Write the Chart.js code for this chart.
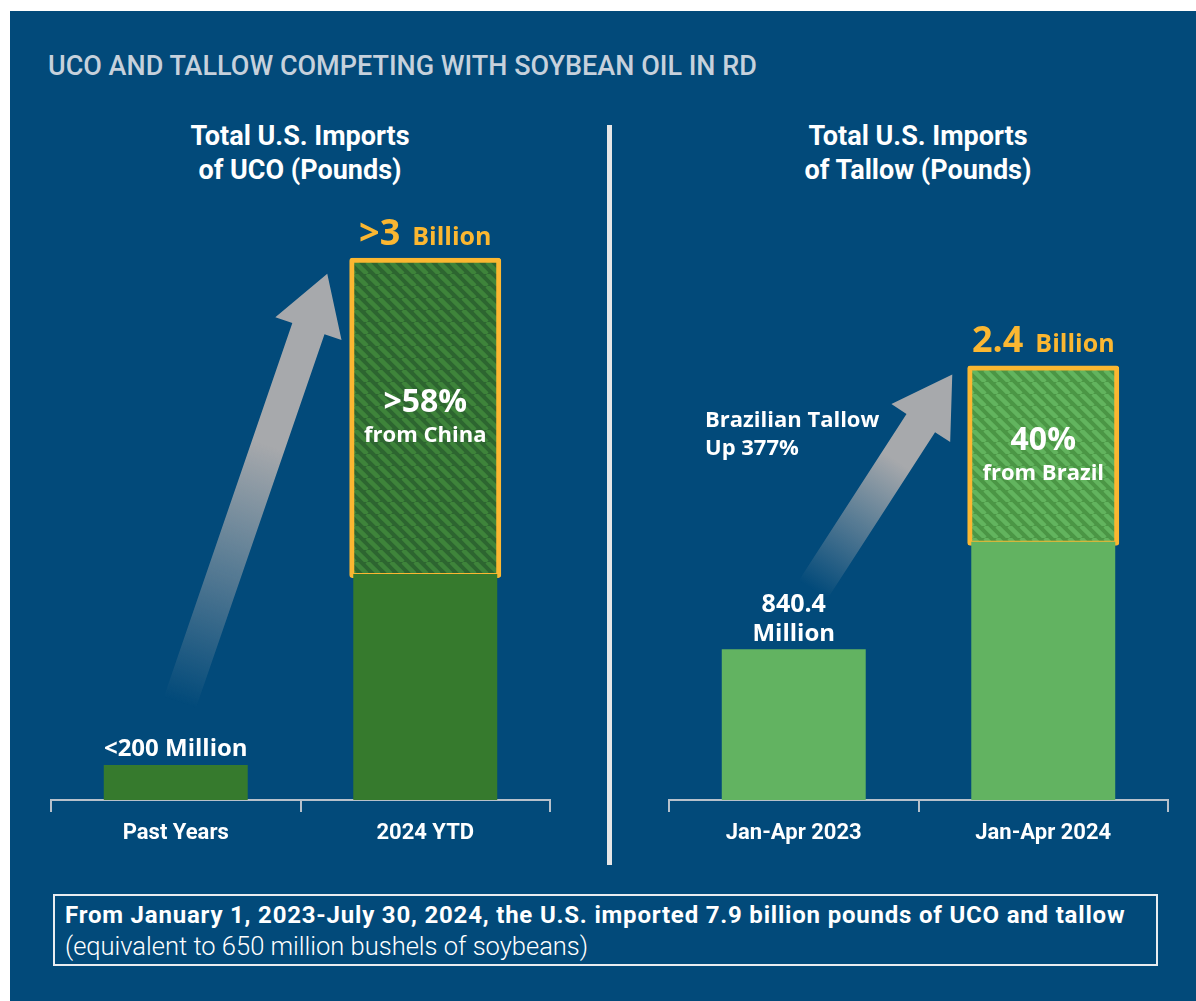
<!DOCTYPE html>
<html>
<head>
<meta charset="utf-8">
<script src="https://cdn.jsdelivr.net/npm/chart.js@4"></script>
<style>
  html, body { margin: 0; padding: 0; background: #fff; }
  body { width: 1196px; height: 1001px; position: relative; overflow: hidden; }
  #panel { position: absolute; left: 10px; top: 11px; width: 1186px; height: 990px; background: #024a7a; }
  .narrow { font-family: Roboto, "DejaVu Sans Condensed", sans-serif; }
  #title { position: absolute; left: 48px; top: 50px; font-size: 27px; font-weight: 500; color: #c6d1dc; white-space: nowrap; }
  .heading { position: absolute; top: 119px; width: 400px; text-align: center; color: #fff; font-size: 27px; font-weight: bold; line-height: 34px; }
  #divider { position: absolute; left: 607px; top: 125px; width: 5px; height: 740px; background: #e6e6e6; }
  canvas { position: absolute; }
  #footer { position: absolute; left: 53px; top: 894px; width: 1101px; height: 68px; border: 2px solid #e8ecf0; color: #fff; }
  #footer .l1 { position: absolute; left: 10px; top: 5px; font-size: 24px; font-weight: bold; letter-spacing: 0.8px; white-space: nowrap; }
  #footer .l2 { position: absolute; left: 10px; top: 35px; font-size: 25.5px; font-weight: 300; white-space: nowrap; }
</style>
</head>
<body>
<div id="panel"></div>
<div id="title" class="narrow">UCO AND TALLOW COMPETING WITH SOYBEAN OIL IN RD</div>
<div class="heading narrow" style="left:100px">Total U.S. Imports<br>of UCO (Pounds)</div>
<div class="heading narrow" style="left:718px">Total U.S. Imports<br>of Tallow (Pounds)</div>
<div id="divider"></div>
<canvas id="uco" width="539" height="670" style="left:31px; top:190px"></canvas>
<canvas id="tallow" width="539" height="670" style="left:649px; top:190px"></canvas>
<div id="footer" class="narrow">
  <div class="l1">From January 1, 2023-July 30, 2024, the U.S. imported 7.9 billion pounds of UCO and tallow</div>
  <div class="l2">(equivalent to 650 million bushels of soybeans)</div>
</div>
<script>
// values in million pounds
const ucoCategories = ['Past Years', '2024 YTD'];
const ucoRest = [195, 1260];
const ucoChina = [null, 1740];
const ucoTotals = ['<200 Million', '>3 Billion'];
const ucoShare = [null, ['>58%', 'from China']];

const tallowCategories = ['Jan-Apr 2023', 'Jan-Apr 2024'];
const tallowRest = [840.4, 1440];
const tallowBrazil = [null, 960];
const tallowTotals = ['840.4 Million', '2.4 Billion'];
const tallowShare = [null, ['40%', 'from Brazil']];
const tallowNote = ['Brazilian Tallow', 'Up 377%'];

const NARROW = 'Roboto, "DejaVu Sans Condensed", sans-serif';
const LABEL = '"Open Sans", "Noto Sans", sans-serif';
const YELLOW = '#fbb731';

function stripes(base, line) {
  const c = document.createElement('canvas');
  c.width = 12; c.height = 12;
  const g = c.getContext('2d');
  g.fillStyle = base;
  g.fillRect(0, 0, 12, 12);
  g.strokeStyle = line;
  g.lineWidth = 4.5;
  for (const k of [-12, 0, 12]) {
    g.beginPath();
    g.moveTo(k, 0);
    g.lineTo(k + 12, 12);
    g.stroke();
  }
  return g.createPattern(c, 'repeat');
}

function drawArrow(ctx, x0, y0, x1, y1) {
  const dx = x1 - x0, dy = y1 - y0;
  const len = Math.hypot(dx, dy);
  const ux = dx / len, uy = dy / len;
  const px = -uy, py = ux;
  const shaft = 17, head = 35, headLen = 58;
  const bx = x1 - ux * headLen, by = y1 - uy * headLen;
  const grad = ctx.createLinearGradient(x0, y0, x1, y1);
  grad.addColorStop(0, 'rgba(167,169,172,0)');
  grad.addColorStop(0.6, 'rgba(167,169,172,1)');
  grad.addColorStop(1, 'rgba(167,169,172,1)');
  ctx.save();
  ctx.fillStyle = grad;
  ctx.beginPath();
  ctx.moveTo(x0 + px * shaft, y0 + py * shaft);
  ctx.lineTo(bx + px * shaft, by + py * shaft);
  ctx.lineTo(bx + px * head, by + py * head);
  ctx.lineTo(x1, y1);
  ctx.lineTo(bx - px * head, by - py * head);
  ctx.lineTo(bx - px * shaft, by - py * shaft);
  ctx.lineTo(x0 - px * shaft, y0 - py * shaft);
  ctx.closePath();
  ctx.fill();
  ctx.restore();
}

function makeChart(id, categories, rest, share, totals, shareLabels, colors, opts) {
  const decor = {
    id: 'decor',
    beforeDatasetsDraw(chart) {
      const ctx = chart.ctx;
      const low = chart.getDatasetMeta(0).data[0];
      const hi = chart.getDatasetMeta(1).data[1];
      drawArrow(ctx, low.x + opts.tail[0], low.y + opts.tail[1],
        hi.x - hi.width / 2 + opts.tip[0], hi.y + opts.tip[1]);
    },
    afterDatasetsDraw(chart) {
      const ctx = chart.ctx;
      const rests = chart.getDatasetMeta(0).data;
      const shares = chart.getDatasetMeta(1).data;
      ctx.save();
      ctx.textAlign = 'center';
      ctx.textBaseline = 'alphabetic';
      categories.forEach((c, i) => {
        const top = share[i] != null ? shares[i].y : rests[i].y;
        const x = rests[i].x;
        const txt = totals[i];
        if (share[i] != null) {
          const parts = txt.split(' ');
          ctx.font = 'bold 36px ' + LABEL;
          const w1 = ctx.measureText(parts[0]).width;
          ctx.font = 'bold 25px ' + LABEL;
          const w2 = ctx.measureText(parts[1]).width;
          const gap = 12;
          const sx = x - (w1 + gap + w2) / 2;
          ctx.fillStyle = YELLOW;
          ctx.textAlign = 'left';
          ctx.font = 'bold 36px ' + LABEL;
          ctx.fillText(parts[0], sx, top - 17);
          ctx.font = 'bold 25px ' + LABEL;
          ctx.fillText(parts[1], sx + w1 + gap, top - 17);
          ctx.textAlign = 'center';
          // share text centred in highlighted segment
          const seg = shares[i];
          const cy = (seg.y + seg.base) / 2;
          ctx.fillStyle = '#fff';
          ctx.font = 'bold 32px ' + LABEL;
          ctx.fillText(shareLabels[i][0], x, cy - 6);
          ctx.font = 'bold 22px ' + LABEL;
          ctx.fillText(shareLabels[i][1], x, cy + 24);
        } else {
          ctx.fillStyle = '#fff';
          if (opts.splitLow) {
            const parts = txt.split(' ');
            ctx.font = 'bold 25px ' + LABEL;
            ctx.fillText(parts[0], x, top - 37);
            ctx.font = 'bold 24px ' + LABEL;
            ctx.fillText(parts[1], x, top - 8);
          } else {
            ctx.font = 'bold 24px ' + LABEL;
            ctx.fillText(txt, x, top - 9);
          }
        }
      });
      if (opts.note) {
        ctx.textAlign = 'left';
        ctx.fillStyle = '#fff';
        ctx.font = 'bold 22px ' + LABEL;
        const hi = shares[1];
        ctx.fillText(opts.note[0], chart.chartArea.left + 36, hi.y + 58);
        ctx.fillText(opts.note[1], chart.chartArea.left + 36, hi.y + 86);
      }
      ctx.restore();
    }
  };

  return new Chart(document.getElementById(id), {
    type: 'bar',
    data: {
      labels: categories,
      datasets: [
        {
          label: 'Other',
          data: rest,
          backgroundColor: colors.solid,
          categoryPercentage: 1,
          barPercentage: 0.577
        },
        {
          label: 'Highlight',
          data: share,
          backgroundColor: stripes(colors.base, colors.stripe),
          borderColor: YELLOW,
          borderWidth: 5,
          borderSkipped: false,
          borderRadius: 3,
          inflateAmount: 4,
          categoryPercentage: 1,
          barPercentage: 0.577
        }
      ]
    },
    options: {
      responsive: false,
      animation: false,
      layout: { padding: { left: 20, right: 20, top: 0, bottom: 0 } },
      plugins: { legend: { display: false }, tooltip: { enabled: false } },
      scales: {
        x: {
          stacked: true,
          offset: true,
          border: { display: true, color: '#b7c1cb', width: 2 },
          grid: { display: true, offset: true, drawOnChartArea: false, drawTicks: true, tickLength: 12, color: '#b7c1cb', lineWidth: 2 },
          ticks: { color: '#fff', padding: 8, font: { family: NARROW, size: 22, weight: 'bold' } },
          afterFit(scale) { scale.height = 60; }
        },
        y: { stacked: true, display: false, min: 0, max: 3400 }
      }
    },
    plugins: [decor]
  });
}

makeChart('uco', ucoCategories, ucoRest, ucoChina, ucoTotals, ucoShare,
  { solid: '#367a2d', base: '#2d6530', stripe: '#3e843a' },
  { tail: [4, -62], tip: [-26, 12], splitLow: false });

makeChart('tallow', tallowCategories, tallowRest, tallowBrazil, tallowTotals, tallowShare,
  { solid: '#62b361', base: '#4b9645', stripe: '#62b45e' },
  { tail: [19, -59], tip: [-19, 5], splitLow: true, note: tallowNote });
</script>
</body>
</html>
